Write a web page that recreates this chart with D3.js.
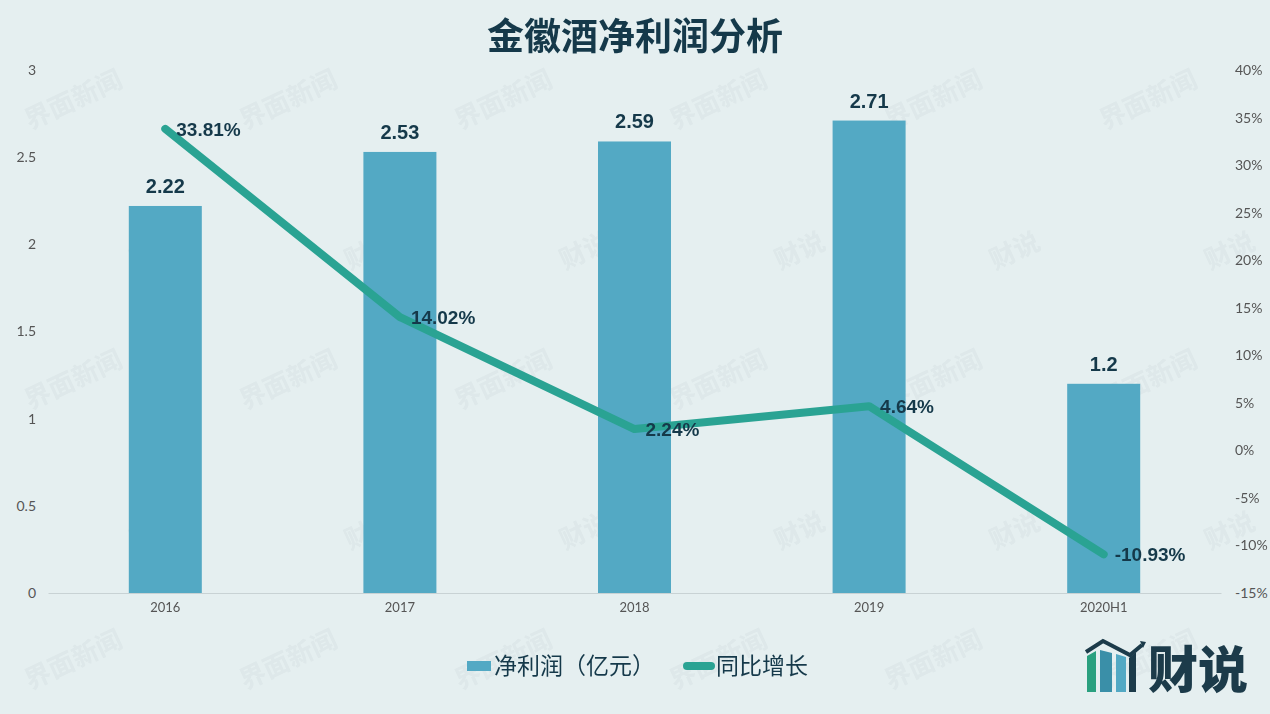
<!DOCTYPE html>
<html><head><meta charset="utf-8">
<script src="https://cdn.jsdelivr.net/npm/d3@7/dist/d3.min.js"></script>
<style>
html,body{margin:0;padding:0;background:#e5eff0;}
svg{display:block;font-family:"Noto Sans CJK SC","Noto Sans",sans-serif;}
</style></head><body>
<svg id="c" width="1270" height="714"></svg>
<script>
const categories = ["2016","2017","2018","2019","2020H1"];
const netProfit = [2.22, 2.53, 2.59, 2.71, 1.2];
const growth = [33.81, 14.02, 2.24, 4.64, -10.93];
const leftTicks = [0, 0.5, 1, 1.5, 2, 2.5, 3];
const rightTicks = [-15, -10, -5, 0, 5, 10, 15, 20, 25, 30, 35, 40];

(function () {
const svg = d3.select("#c");
const W = 1270, H = 714;
const pTop = 70, pBottom = 593, pLeft = 48, pRight = 1221;
const barColor = "#53a9c4", lineColor = "#2aa393", dark = "#15394a";

svg.append("rect").attr("width", W).attr("height", H).attr("fill", "#e5eff0");

// watermarks
const wm = svg.append("g").attr("fill", "#8a9aa0").attr("opacity", 0.08)
  .attr("font-weight", "bold");
for (let r = 0; r < 5; r++) {
  for (let c = 0; c < 6; c++) {
    const wx = 30 + c * 215 + (r % 2) * 105, wy = 130 + r * 140;
    wm.append("text").attr("transform", `translate(${wx},${wy}) rotate(-25)`)
      .attr("font-size", 26).text(r % 2 ? "财说" : "界面新闻");
  }
}

const x = d3.scaleBand().domain(categories).range([pLeft, pRight]);
const yL = d3.scaleLinear().domain([0, 3]).range([pBottom, pTop]);
const yR = d3.scaleLinear().domain([-15, 40]).range([pBottom, pTop]);

// title
svg.append("text").attr("x", 635).attr("y", 50).attr("text-anchor", "middle")
  .attr("font-size", 37).attr("font-weight", "bold").attr("fill", dark)
  .text("金徽酒净利润分析");

// left axis
const gL = svg.append("g").attr("transform", `translate(${pLeft},0)`)
  .call(d3.axisLeft(yL).tickValues(leftTicks).tickSize(0).tickPadding(12).tickFormat(d3.format("")));
gL.select(".domain").remove();
gL.selectAll("text").attr("font-size", 14).attr("fill", "#555").attr("font-family", "Lato, sans-serif");

// right axis
const gR = svg.append("g").attr("transform", `translate(${pRight},0)`)
  .call(d3.axisRight(yR).tickValues(rightTicks).tickSize(0).tickPadding(14).tickFormat(d => d + "%"));
gR.select(".domain").remove();
gR.selectAll("text").attr("font-size", 14).attr("fill", "#555").attr("font-family", "Lato, sans-serif");

// bars
const bw = 73;
svg.append("g").selectAll("rect").data(categories).join("rect")
  .attr("x", (d) => x(d) + x.bandwidth() / 2 - bw / 2)
  .attr("y", (d, i) => yL(netProfit[i]))
  .attr("width", bw)
  .attr("height", (d, i) => yL(0) - yL(netProfit[i]))
  .attr("fill", barColor);

// x axis
const gX = svg.append("g").attr("transform", `translate(0,${pBottom})`)
  .call(d3.axisBottom(x).tickSize(0).tickPadding(10));
gX.select(".domain").attr("stroke", "#c8d2d4").attr("stroke-width", 1);
gX.selectAll("text").attr("font-size", 13).attr("fill", "#555").attr("font-family", "Lato, sans-serif");

// bar labels
svg.append("g").selectAll("text").data(categories).join("text")
  .attr("x", d => x(d) + x.bandwidth() / 2)
  .attr("y", (d, i) => yL(netProfit[i]) - 13)
  .attr("text-anchor", "middle").attr("font-size", 20).attr("font-weight", "bold")
  .attr("fill", dark).attr("font-family", "'Liberation Sans', Arial, sans-serif")
  .text((d, i) => netProfit[i]);

// line
const line = d3.line()
  .x((d, i) => x(categories[i]) + x.bandwidth() / 2)
  .y(d => yR(d));
svg.append("path").datum(growth).attr("d", line)
  .attr("fill", "none").attr("stroke", lineColor).attr("stroke-width", 8)
  .attr("stroke-linecap", "round").attr("stroke-linejoin", "round");

// line labels
svg.append("g").selectAll("text").data(growth).join("text")
  .attr("x", (d, i) => x(categories[i]) + x.bandwidth() / 2 + 11)
  .attr("y", d => yR(d) + 7)
  .attr("font-size", 19).attr("font-weight", "bold")
  .attr("fill", dark).attr("font-family", "'Liberation Sans', Arial, sans-serif")
  .text(d => d.toFixed(2) + "%");

// legend
const lg = svg.append("g").attr("font-size", 23).attr("fill", dark);
lg.append("rect").attr("x", 467).attr("y", 661).attr("width", 24).attr("height", 10).attr("fill", barColor);
lg.append("text").attr("x", 494).attr("y", 674).text("净利润（亿元）");
lg.append("line").attr("x1", 687).attr("x2", 711).attr("y1", 666).attr("y2", 666)
  .attr("stroke", lineColor).attr("stroke-width", 8).attr("stroke-linecap", "round");
lg.append("text").attr("x", 716).attr("y", 674).text("同比增长");

// logo
const logo = svg.append("g");
logo.append("polygon").attr("points", "1087,656 1096,651 1096,692 1087,692").attr("fill", "#2aa07f");
logo.append("polygon").attr("points", "1100,650 1112,653 1112,692 1100,692").attr("fill", "#3a8fa8");
logo.append("polygon").attr("points", "1116,654 1126,657 1126,692 1116,692").attr("fill", "#53a9c4");
logo.append("polygon").attr("points", "1129,658 1136,652 1136,692 1129,692").attr("fill", "#1c3b4a");
logo.append("polyline").attr("points", "1086,652 1103,641 1130,655 1142,645")
  .attr("fill", "none").attr("stroke", "#1c3b4a").attr("stroke-width", 4);
logo.append("polygon").attr("points", "1140,641 1146,642 1143,648").attr("fill", "#1c3b4a");
logo.append("text").attr("x", 1148).attr("y", 688).attr("font-size", 50).attr("font-weight", "900")
  .attr("fill", "#1c3b4a").text("财说");
})();
</script>
</body></html>
